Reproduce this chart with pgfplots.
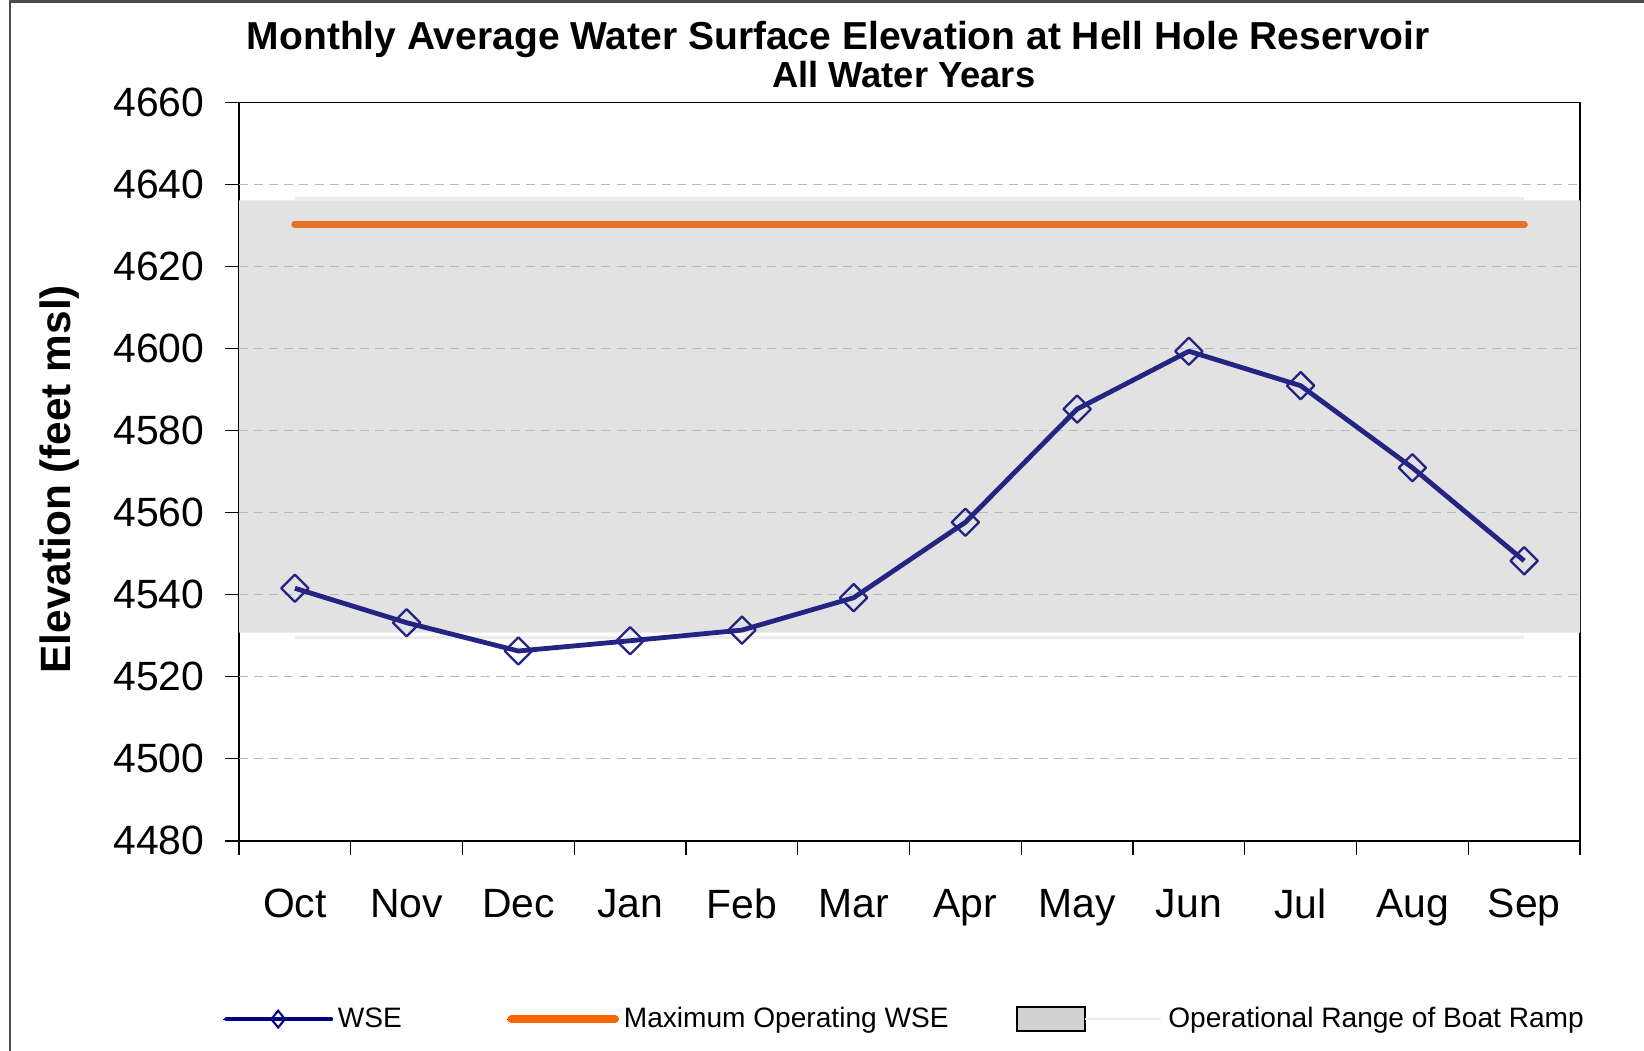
\documentclass[border=0pt]{standalone}
\usepackage{fontspec}
\setmainfont{Liberation Sans}
\usepackage{pgfplots}
\pgfplotsset{compat=1.18}
\definecolor{wse}{RGB}{36,36,130}
\definecolor{wseleg}{RGB}{0,0,128}
\definecolor{maxop}{RGB}{228,114,40}
\definecolor{maxopleg}{RGB}{255,102,0}
\definecolor{bandgray}{RGB}{226,226,226}
\definecolor{bandleg}{RGB}{210,210,210}
\definecolor{lightline}{RGB}{236,236,236}
\definecolor{gridgray}{RGB}{185,185,185}
\begin{document}
\begin{tikzpicture}
\path[use as bounding box] (0,0) rectangle (784bp,501bp);
\draw[line width=1.2bp, black!70] (4.8bp,0) -- (4.8bp,500.4bp) -- (784bp,500.4bp);
\begin{axis}[
  scale only axis, width=639.5bp, height=352bp,
  at={(114bp,100bp)}, anchor=south west,
  xmin=-0.5, xmax=11.5, ymin=4480, ymax=4660,
  xtick={-0.5,0.5,...,11.5},
  xticklabels={Oct,Nov,Dec,Jan,Feb,Mar,Apr,May,Jun,Jul,Aug,Sep},
  x tick label as interval,
  ytick={4480,4500,...,4660},
  tick pos=left, tick align=outside, major tick length=6.5bp,
  tick style={black, line width=0.6bp},
  axis line style={black, line width=0.7bp},
  /pgf/number format/assume math mode=true,
  /pgf/number format/1000 sep={},
  scaled y ticks=false,
  ticklabel style={font=\fontsize{19.5bp}{22bp}\selectfont},
  xticklabel shift=13bp, yticklabel shift=6.5bp,
  ylabel={Elevation (feet msl)},
  every axis y label/.style={at={(axis description cs:-0.1335,0.49)}, rotate=90, anchor=center, font=\bfseries\fontsize{20.2bp}{22bp}\selectfont},
  legend columns=-1,
  legend style={draw=none, fill=none, inner sep=0pt, column sep=0pt,
    at={(axis description cs:-0.0125,-0.2415)}, anchor=west,
    nodes={inner sep=0pt}, font=\fontsize{13.4bp}{15bp}\selectfont},
]
\addplot[forget plot, draw=none, fill=bandgray]
  coordinates {(-0.5,4530.8) (11.5,4530.8) (11.5,4636.2) (-0.5,4636.2) (-0.5,4530.8)};
\pgfplotsinvokeforeach{4500,4520,4540,4560,4580,4600,4620,4640}{
  \addplot[forget plot, gridgray, line width=0.6bp, dash pattern=on 4.3bp off 2.9bp]
    coordinates {(-0.5,#1) (11.5,#1)};
}
\addplot[forget plot, lightline, line width=1.3bp] coordinates {(0,4529.6) (11,4529.6)};
\addplot[forget plot, lightline, line width=1.3bp] coordinates {(0,4636.6) (11,4636.6)};
\addplot[forget plot, maxop, line width=3.5bp, line cap=round] coordinates {(0,4630.3) (11,4630.3)};
\addplot[forget plot, wse, line width=2.3bp, line join=round, mark=square, mark size=4.6bp,
  mark options={rotate=45, line width=1.1bp, fill=none}]
  coordinates {(0,4541.6) (1,4533.2) (2,4526.3) (3,4528.8) (4,4531.4) (5,4539.3)
               (6,4557.7) (7,4585.3) (8,4599.4) (9,4591.0) (10,4571.0) (11,4548.3)};
\addlegendimage{legend image code/.code={
  \path (0bp,0bp) -- (52.5bp,0bp);
  \draw[wseleg, line width=2bp, line cap=round] (1.5bp,0bp) -- (51.5bp,0bp);
  \draw[wseleg, line width=1bp] (26.25bp,4bp) -- (29.5bp,0bp) -- (26.25bp,-4bp) -- (23bp,0bp) -- cycle;}}
\addlegendentry{\makebox[82.5bp][l]{\hspace{2bp}WSE}}
\addlegendimage{legend image code/.code={
  \path (0bp,0bp) -- (53.5bp,0bp);
  \draw[maxopleg, line width=3.6bp, line cap=round] (2bp,0bp) -- (51.5bp,0bp);}}
\addlegendentry{\makebox[189bp][l]{\hspace{2bp}Maximum Operating WSE}}
\addlegendimage{legend image code/.code={
  \draw[black, line width=1bp, fill=bandleg] (0bp,-5.75bp) rectangle (32.5bp,5.75bp);
  \draw[lightline, line width=1.3bp] (32.5bp,0bp) -- (68.5bp,0bp);}}
\addlegendentry{\hspace{3bp}Operational Range of Boat Ramp}
\end{axis}
\node[anchor=base, font=\bfseries\fontsize{18.6bp}{20bp}\selectfont] at (399.75bp,477.5bp)
  {Monthly Average Water Surface Elevation at Hell Hole Reservoir};
\node[anchor=base, font=\bfseries\fontsize{17.3bp}{20bp}\selectfont] at (431bp,459.5bp)
  {All Water Years};
\end{tikzpicture}
\end{document}
